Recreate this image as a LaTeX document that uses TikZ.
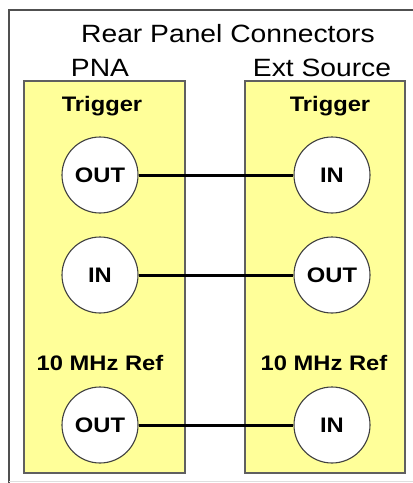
\documentclass[tikz,border=0pt]{standalone}
\usepackage{fontspec}
\setmainfont{Liberation Sans}[FakeStretch=1.13]
\usepackage{xcolor}
\usepackage{tikz}
\usetikzlibrary{positioning}

\definecolor{panelyellow}{RGB}{255,255,153}
\definecolor{framegray}{RGB}{80,80,80}

\begin{document}
\begin{tikzpicture}[
  x=1pt, y=-1pt,
  panel/.style={draw=gray!75!black, fill=panelyellow, line width=1.4pt},
  conn/.style={circle, draw=black!75, fill=white, line width=1.1pt,
               minimum size=76pt, inner sep=0pt,
               font=\fontsize{21}{24}\selectfont\bfseries},
  head/.style={anchor=base, inner sep=0pt, font=\fontsize{25}{30}\selectfont},
  lbl/.style={anchor=base, inner sep=0pt, font=\fontsize{21}{24}\selectfont\bfseries},
  cable/.style={draw=black, line width=3pt}
]
\useasboundingbox (0,0) rectangle (413,483);

% outer frame
\draw[framegray, line width=1.5pt] (9,483) -- (9,10) -- (413,10);
\draw[gray!25, line width=1pt] (9,481) -- (413,481);

% headings
\node[head] (title) at (228,42) {Rear Panel Connectors};
\node[head] (pna) at (100,76) {PNA};
\node[head] (ext) at (322,76) {Ext Source};

% the two rear panels
\draw[panel] (24,81) rectangle (185,473);
\draw[panel] (245,81) rectangle (405,473);

\node[lbl] (pnaTrig) at (102,111) {Trigger};
\node[lbl] (extTrig) at (330,111) {Trigger};
\node[lbl] (pnaRef) at (100,370) {10 MHz Ref};
\node[lbl] (extRef) at (324,370) {10 MHz Ref};

% connectors
\node[conn] (pnaTrigOut) at (100,175) {OUT};
\node[conn] (pnaTrigIn)  at (100,275) {IN};
\node[conn] (pnaRefOut)  at (100,425) {OUT};
\node[conn] (extTrigIn)  at (332,175) {IN};
\node[conn] (extTrigOut) at (332,275) {OUT};
\node[conn] (extRefIn)   at (332,425) {IN};

% cables
\draw[cable] (pnaTrigOut) -- (extTrigIn);
\draw[cable] (pnaTrigIn) -- (extTrigOut);
\draw[cable] (pnaRefOut) -- (extRefIn);
\end{tikzpicture}
\end{document}
